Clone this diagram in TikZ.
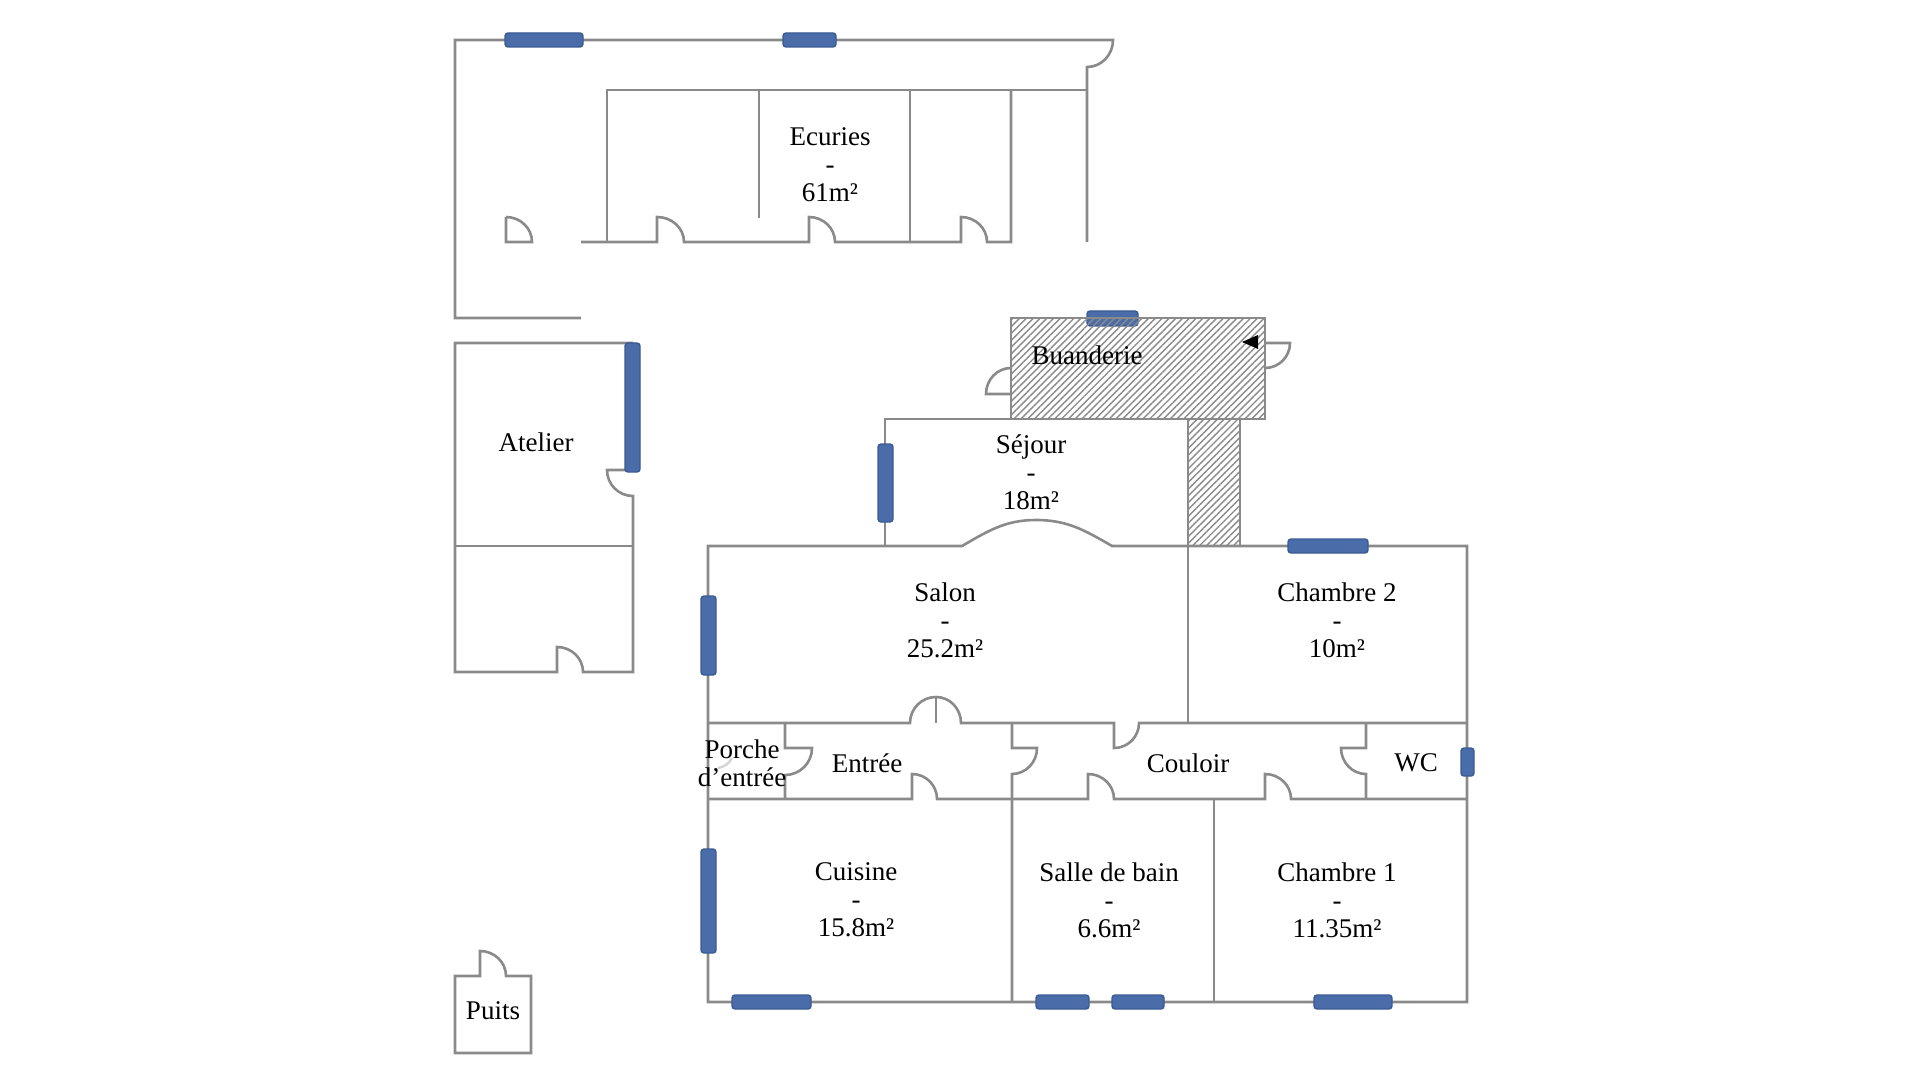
\documentclass[tikz,border=0pt]{standalone}
\usepackage{fontspec}
\setmainfont{Liberation Serif}
\usetikzlibrary{patterns.meta}
\definecolor{wallgray}{HTML}{8A8A8A}
\definecolor{winblue}{HTML}{4A6DA9}
\definecolor{winedge}{HTML}{3A5A94}
\tikzset{%
  wall/.style   = {draw=wallgray, line width=1.3pt, line join=miter},%
  window/.style = {draw=winedge, fill=winblue, line width=0.7pt, rounded corners=1.5pt},%
  hatched/.style = {wall, pattern={Lines[angle=45,distance=2.4pt,line width=0.7pt]}, pattern color=wallgray},%
  room/.style   = {align=center, inner sep=0pt, font=\fontsize{13.5}{14}\selectfont}%
}
\begin{document}
\begin{tikzpicture}[x=0.5pt,y=-0.5pt]
	\useasboundingbox (0,0) rectangle (1920,1080);
	% ecuries
	\draw[wall] (581,318) -- (455,318) -- (455,40) -- (1113,40) to[out=-90,in=0] (1087,67) -- (1087,242);
	\draw[wall] (607,242) -- (607,90) -- (1087,90);
	\draw[wall] (759,90) -- (759,218);
	\draw[wall] (910,90) -- (910,242);
	\draw[wall] (581,242) -- (657,242) -- (657,217) to[out=0,in=90] (684,242) -- (809,242) -- (809,217) to[out=0,in=90] (835,242) -- (961,242) -- (961,217) to[out=0,in=90] (987,242) -- (1011,242) -- (1011,90);
	\draw[wall] (506,217) -- (506,242) -- (532,242) to[out=90,in=0] (506,217);
	% atelier
	\draw[wall] (633,470) -- (607,470) to[out=-90,in=180] (633,496) -- (633,672) -- (583,672) to[out=90,in=0] (557,647) -- (557,672) -- (455,672) -- (455,343) -- (633,343);
	\draw[wall] (455,546) -- (633,546);
	% maison
	\draw[wall] (885,546) -- (885,419) -- (1011,419);
	\draw[wall] (1011,394) -- (986,394) to[out=90,in=180] (1011,368);
	\draw[wall] (1265,343) -- (1290,343) to[out=-90,in=0] (1265,368);
	\draw[wall] (708,546) -- (962,546) to[out=30,in=180] (1036,520) to[out=0,in=150] (1112,546) -- (1467,546) -- (1467,1002) -- (708,1002) -- cycle;
	\draw[wall] (1188,546) -- (1188,723);
	\draw[wall] (708,723) -- (910,723) to[out=90,in=180] (936,697) to[out=0,in=90] (961,723) -- (1114,723) -- (1114,748) to[out=0,in=-90] (1139,723) -- (1467,723);
	\draw[wall] (936,697) -- (936,723);
	\draw[wall] (708,799) -- (912,799) -- (912,774) to[out=0,in=90] (937,799) -- (1088,799) -- (1088,774) to[out=0,in=90] (1114,799) -- (1265,799) -- (1265,774) to[out=0,in=90] (1291,799) -- (1467,799);
	\draw[wall] (785,723) -- (785,748) -- (812,748) to[out=-90,in=0] (785,775) -- (785,799);
	\draw[wall] (1012,723) -- (1012,748) -- (1037,748) to[out=-90,in=0] (1012,774) -- (1012,1002);
	\draw[wall] (1366,723) -- (1366,748) -- (1341,748) to[out=-90,in=180] (1366,774) -- (1366,799);
	\draw[wall] (1214,799) -- (1214,1002);
	\draw[wall, draw=wallgray!35] (732,758) to[bend left=25] (718,768);
	% puits
	\draw[wall] (455,976) -- (480,976) -- (480,951) to[out=0,in=90] (506,976) -- (531,976) -- (531,1053) -- (455,1053) -- cycle;
	% fenetres
	\foreach \xa/\ya/\xb/\yb in {505/33/583/47, 783/33/836/47, 625/343/640/472, 1087/311/1138/326,
		878/444/893/522, 701/596/716/675, 701/849/716/953, 1288/539/1368/553, 1461/748/1474/776,
		732/995/811/1009, 1036/995/1089/1009, 1112/995/1164/1009, 1314/995/1392/1009}
		\draw[window] (\xa,\ya) rectangle (\xb,\yb);
	% buanderie
	\draw[hatched] (1011,318) rectangle (1265,419);
	\draw[hatched] (1188,419) rectangle (1240,546);
	\fill[black] (1242,342) -- (1258,335) -- (1258,349) -- cycle;
	% pieces
	\node[room] (ecuries) at (830,165) {Ecuries\\-\\61m²};
	\node[room] (atelier) at (536,442) {Atelier};
	\node[room] (buanderie) at (1087,355) {Buanderie};
	\node[room] (sejour) at (1031,472) {Séjour\\-\\18m²};
	\node[room] (salon) at (945,620) {Salon\\-\\25.2m²};
	\node[room] (chambre2) at (1337,620) {Chambre 2\\-\\10m²};
	\node[room] (porche) at (742,763) {Porche\\d’entrée};
	\node[room] (entree) at (867,763) {Entrée};
	\node[room] (couloir) at (1188,763) {Couloir};
	\node[room] (wc) at (1416,763) {WC};
	\node[room] (cuisine) at (856,900) {Cuisine\\-\\15.8m²};
	\node[room] (salledebain) at (1109,900) {Salle de bain\\-\\6.6m²};
	\node[room] (chambre1) at (1337,900) {Chambre 1\\-\\11.35m²};
	\node[room] (puits) at (493,1011) {Puits};
\end{tikzpicture}
\end{document}
